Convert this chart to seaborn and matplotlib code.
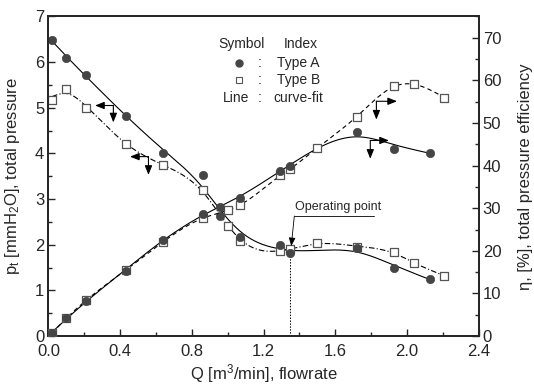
import numpy as np
import pandas as pd
import matplotlib
matplotlib.use("Agg")
import matplotlib.pyplot as plt
import seaborn as sns

# ---- data ----
qa = [0.02, 0.10, 0.21, 0.43, 0.64, 0.86, 0.96, 1.07, 1.29, 1.35, 1.72, 1.93, 2.13]
pa = [6.49, 6.08, 5.71, 4.83, 4.02, 3.53, 2.62, 2.16, 1.99, 1.82, 1.92, 1.50, 1.24]
ea = [0.7, 4.2, 8.2, 15.3, 22.6, 28.7, 30.4, 32.3, 38.8, 39.9, 47.9, 44.0, 43.0]

qb = [0.02, 0.10, 0.21, 0.43, 0.64, 0.86, 1.00, 1.07, 1.29, 1.35, 1.50, 1.72, 1.93, 2.04, 2.21]
pb = [5.18, 5.42, 5.00, 4.21, 3.74, 3.20, 2.42, 2.09, 1.87, 1.91, 2.03, 1.96, 1.83, 1.59, 1.32]
eb = [0.7, 4.2, 8.4, 15.4, 22.1, 27.7, 29.5, 30.7, 37.7, 39.1, 44.2, 51.4, 58.7, 59.1, 55.9]

op_q = 1.349
op_p = 1.82

xticks = [0.0, 0.4, 0.8, 1.2, 1.6, 2.0, 2.4]
yticks_l = [0, 1, 2, 3, 4, 5, 6, 7]
yticks_r = [0, 10, 20, 30, 40, 50, 60, 70]

sns.set_style("ticks")
plt.rcParams['font.family'] = ['Liberation Sans', 'DejaVu Sans']
plt.rcParams['mathtext.default'] = 'regular'
plt.rcParams['xtick.direction'] = 'in'
plt.rcParams['ytick.direction'] = 'in'

fig = plt.figure(figsize=(5.34, 3.89), dpi=100)
ax = fig.add_axes([0.0908, 0.1362, 0.8053, 0.8214])
ax2 = ax.twinx()


def smooth_fit(x, y, lam, n=400):
    """Penalised (smoothing-spline-like) curve fit on a dense grid."""
    x = np.asarray(x, float)
    y = np.asarray(y, float)
    xs = np.linspace(x.min(), x.max(), n)
    h = xs[1] - xs[0]
    W = np.zeros((len(x), n))
    for i, xi in enumerate(x):
        j = min(int((xi - xs[0]) / h), n - 2)
        t = (xi - xs[j]) / h
        W[i, j] = 1 - t
        W[i, j + 1] = t
    D = np.diff(np.eye(n), 2, axis=0)
    A = W.T @ W + (lam / h ** 3) * D.T @ D
    z = np.linalg.solve(A, W.T @ y)
    return pd.DataFrame({"x": xs, "y": z})


dfa = pd.DataFrame({"q": qa, "p": pa, "e": ea})
dfb = pd.DataFrame({"q": qb, "p": pb, "e": eb})

fa = smooth_fit(qa, pa, 9e-4)
fb = smooth_fit(qb, pb, 1e-4)
fea = smooth_fit(qa, ea, 1e-3)
feb = smooth_fit(qb, eb, 5e-5)

sns.lineplot(data=fa, x="x", y="y", ax=ax, color="black", lw=0.8, sort=False)
sns.lineplot(data=fb, x="x", y="y", ax=ax, color="black", lw=0.8, sort=False)
ax.lines[-1].set_dashes([5, 2, 1, 2])
sns.lineplot(data=fea, x="x", y="y", ax=ax2, color="black", lw=0.8, sort=False)
sns.lineplot(data=feb, x="x", y="y", ax=ax2, color="black", lw=0.8, sort=False)
ax2.lines[-1].set_dashes([4, 3])

# markers
sns.scatterplot(data=dfb, x="q", y="p", ax=ax, marker="s", s=38,
                facecolor="white", edgecolor="#555555", linewidth=0.9, zorder=3)
sns.scatterplot(data=dfa, x="q", y="p", ax=ax, marker="o", s=36,
                color="#454545", edgecolor="#454545", linewidth=0.5, zorder=4)
sns.scatterplot(data=dfb, x="q", y="e", ax=ax2, marker="s", s=38,
                facecolor="white", edgecolor="#555555", linewidth=0.9, zorder=3)
sns.scatterplot(data=dfa, x="q", y="e", ax=ax2, marker="o", s=36,
                color="#454545", edgecolor="#454545", linewidth=0.5, zorder=4)

ax.set_xlim(0, 2.4)
ax.set_ylim(0, 7)
ax2.set_ylim(0, 75)
ax.set_xticks(xticks)
ax.set_xticklabels([f"{v:.1f}" for v in xticks])
ax.set_xticks(np.arange(0, 2.41, 0.2), minor=True)
ax.set_yticks(yticks_l)
ax.set_yticks(np.arange(0, 7.01, 0.5), minor=True)
ax2.set_yticks(yticks_r)
ax2.set_yticks(np.arange(0, 75.1, 5), minor=True)

for a in (ax, ax2):
    a.tick_params(which="major", length=5, width=1.0, labelsize=12, pad=3)
    a.tick_params(which="minor", length=3, width=1.0)
    for s in a.spines.values():
        s.set_linewidth(1.3)
        s.set_visible(True)
ax.tick_params(axis="x", pad=6)

ax.set_xlabel("Q [m$^3$/min], flowrate", fontsize=12, labelpad=2)
ax.set_ylabel("p$_t$ [mmH$_2$O], total pressure", fontsize=12, labelpad=9)
ax2.set_ylabel("η, [%], total pressure efficiency", fontsize=12, labelpad=12)

# axis-indicator arrows
akw = dict(arrowstyle="-|>,head_length=0.55,head_width=0.22", color="black",
           lw=0.8, shrinkA=0, shrinkB=0)
for (x0, y0, xl, yd) in [(0.362, 5.05, 0.26, 4.68), (0.558, 3.93, 0.455, 3.53)]:
    ax.annotate("", xy=(xl, y0), xytext=(x0, y0), arrowprops=akw)
    ax.annotate("", xy=(x0, yd), xytext=(x0, y0), arrowprops=akw)
for (x0, y0, xr, yd) in [(1.83, 55.1, 1.945, 50.8), (1.796, 45.9, 1.90, 41.6)]:
    ax2.annotate("", xy=(xr, y0), xytext=(x0, y0), arrowprops=akw)
    ax2.annotate("", xy=(x0, yd), xytext=(x0, y0), arrowprops=akw)

# operating point
ax.plot([op_q, op_q], [0, op_p], ls=(0, (1.5, 1.5)), color="black", lw=0.7)
ax.text(1.377, 2.70, "Operating point", fontsize=9, ha="left", va="bottom")
ax.plot([1.37, 1.815], [2.63, 2.63], color="black", lw=0.6)
ax.annotate("", xy=(1.355, 1.97), xytext=(1.372, 2.63),
            arrowprops=dict(arrowstyle="-|>,head_length=0.5,head_width=0.2",
                            color="black", lw=0.6, shrinkA=0, shrinkB=0))

# legend block
fs = 10
ax.text(1.075, 6.39, "Symbol", fontsize=fs, ha="center", va="center")
ax.text(1.41, 6.39, "Index", fontsize=fs, ha="center", va="center")
ax.plot([1.066], [5.99], marker="o", ms=5, color="#454545", ls="none")
ax.plot([1.066], [5.61], marker="s", ms=5, mfc="white", mec="#555555", mew=0.8, ls="none")
for yy in (5.99, 5.61, 5.22):
    ax.text(1.178, yy, ":", fontsize=fs, ha="center", va="center")
ax.text(1.277, 5.99, "Type A", fontsize=fs, ha="left", va="center")
ax.text(1.277, 5.61, "Type B", fontsize=fs, ha="left", va="center")
ax.text(1.047, 5.22, "Line", fontsize=fs, ha="center", va="center")
ax.text(1.254, 5.22, "curve-fit", fontsize=fs, ha="left", va="center")

fig.savefig("out.png", dpi=100)
